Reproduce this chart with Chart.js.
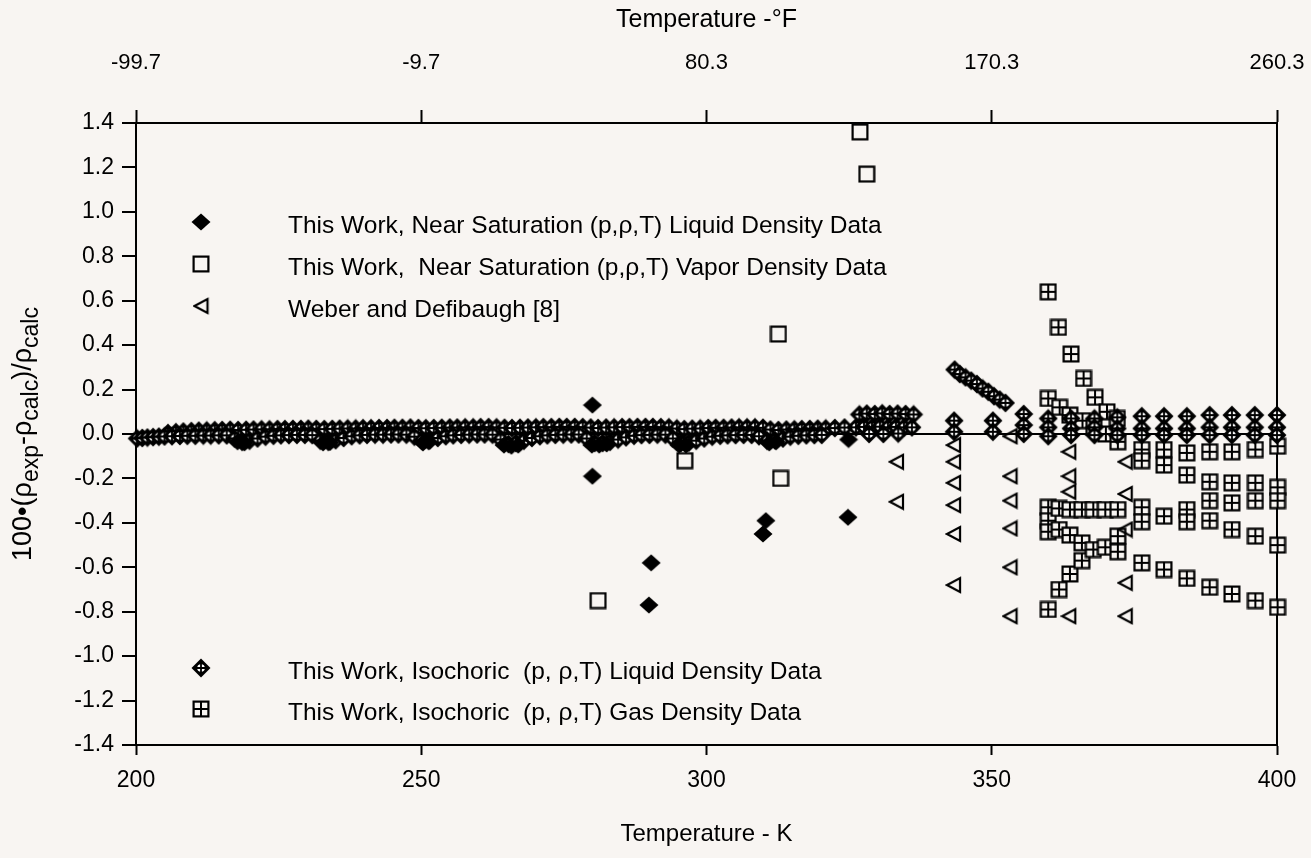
<!DOCTYPE html>
<html><head><meta charset="utf-8">
<script src="https://cdn.jsdelivr.net/npm/chart.js@4.4.1/dist/chart.umd.min.js"></script>
<style>html,body{margin:0;padding:0;background:#f8f5f2;}canvas{display:block}</style>
</head><body>
<canvas id="c" width="1311" height="858"></canvas>
<script>
// ---------- axis ticks ----------
const xTicksK = [200, 250, 300, 350, 400];
const xTicksF = ['-99.7', '-9.7', '80.3', '170.3', '260.3'];
const yTickValues = [-1.4,-1.2,-1.0,-0.8,-0.6,-0.4,-0.2,0,0.2,0.4,0.6,0.8,1.0,1.2,1.4];

// ---------- series: [T (K), 100*(rho_exp - rho_calc)/rho_calc] ----------
const satLiquid = [
  [217.8,-0.035],[219.0,-0.04],[232.8,-0.04],[234.0,-0.038],[250.3,-0.04],[251.3,-0.035],
  [264.5,-0.05],[265.8,-0.055],[267.0,-0.05],[279.9,-0.05],[281.2,-0.05],[282.5,-0.045],
  [295.2,-0.05],[296.4,-0.05],[311.0,-0.04],[312.2,-0.035],[324.9,-0.025],
  [280.0,0.13],[280.0,-0.19],[290.3,-0.58],[289.9,-0.77],[310.4,-0.39],[309.9,-0.45],[324.8,-0.375]
];
const satVapor = [
  [281.0,-0.75],[296.2,-0.12],[313.0,-0.20],[312.6,0.45],[326.9,1.36],[328.1,1.17]
];
const weber = [
  [333.3,-0.125],[333.3,-0.305],
  [343.3,-0.05],[343.3,-0.125],[343.3,-0.22],[343.3,-0.32],[343.3,-0.45],[343.3,-0.68],
  [353.2,-0.01],[353.2,-0.19],[353.2,-0.30],[353.2,-0.425],[353.2,-0.60],[353.2,-0.82],
  [363.5,-0.08],[363.5,-0.19],[363.5,-0.26],[363.5,-0.82],
  [373.4,-0.125],[373.4,-0.27],[373.4,-0.43],[373.4,-0.67],[373.4,-0.82]
];
const isoLiqUpper = [
  [205.6,0.004],[207.0,0.008],[208.3,0.011],[209.7,0.013],[211.0,0.015],[212.4,0.016],[213.8,0.017],
  [215.1,0.018],[216.5,0.019],[217.9,0.018],[219.3,0.019],[220.6,0.02],[222.0,0.021],[223.4,0.021],
  [224.8,0.022],[226.1,0.022],[227.5,0.023],[228.9,0.023],[230.2,0.024],[231.6,0.023],[233.0,0.022],
  [234.4,0.023],[235.7,0.024],[237.1,0.025],[238.5,0.025],[239.8,0.026],[241.2,0.026],[242.6,0.027],
  [244.0,0.027],[245.3,0.028],[246.7,0.028],[248.1,0.029],[249.5,0.027],[250.8,0.026],[252.2,0.027],
  [253.6,0.028],[255.0,0.029],[256.3,0.029],[257.7,0.03],[259.1,0.03],[260.4,0.031],[261.8,0.031],
  [263.2,0.03],[264.6,0.028],[265.9,0.027],[267.3,0.028],[268.7,0.029],[270.1,0.03],[271.4,0.031],
  [272.8,0.031],[274.2,0.032],[275.5,0.032],[276.9,0.032],[278.3,0.031],[279.7,0.029],[281.0,0.027],
  [282.4,0.029],[283.8,0.03],[285.2,0.031],[286.5,0.031],[287.9,0.032],[289.3,0.032],[290.6,0.032],
  [292.0,0.031],[293.4,0.03],[294.8,0.025],[296.1,0.022],[297.5,0.024],[298.9,0.025],[300.3,0.027],
  [301.6,0.028],[303.0,0.028],[304.4,0.029],[305.7,0.03],[307.1,0.03],[308.5,0.03],[309.9,0.028],
  [311.2,0.02],[312.6,0.018],[314.0,0.02],[315.4,0.021],[316.7,0.022],[318.1,0.023],[319.5,0.024],
  [320.9,0.025],[322.5,0.027],[324.2,0.029]
];
const isoLiqLower = [
  [200.2,-0.02],[201.1,-0.018],[202.0,-0.016],[203.0,-0.014],[204.0,-0.012],[205.0,-0.011],[206.3,-0.01],
  [207.7,-0.009],[209.0,-0.008],[210.4,-0.008],[211.8,-0.007],[213.1,-0.007],[214.5,-0.006],[215.9,-0.006],
  [217.3,-0.02],[218.6,-0.035],[219.9,-0.03],[221.3,-0.02],[222.7,-0.012],[224.1,-0.008],[225.4,-0.006],
  [226.8,-0.005],[228.2,-0.004],[229.6,-0.004],[230.9,-0.005],[232.3,-0.03],[233.7,-0.035],[235.0,-0.028],
  [236.4,-0.018],[237.8,-0.01],[239.2,-0.006],[240.5,-0.004],[241.9,-0.003],[243.3,-0.003],[244.7,-0.002],
  [246.0,-0.002],[247.4,-0.003],[248.8,-0.012],[250.1,-0.03],[251.5,-0.028],[252.9,-0.018],[254.3,-0.01],
  [255.6,-0.006],[257.0,-0.004],[258.4,-0.003],[259.8,-0.002],[261.1,-0.002],[262.5,-0.003],[263.9,-0.025],
  [265.3,-0.045],[266.6,-0.04],[268.0,-0.03],[269.4,-0.018],[270.8,-0.01],[272.1,-0.006],[273.5,-0.004],
  [274.9,-0.003],[276.3,-0.002],[277.6,-0.002],[279.0,-0.02],[280.4,-0.04],[281.8,-0.04],[283.1,-0.035],
  [284.5,-0.025],[285.9,-0.015],[287.3,-0.008],[288.6,-0.005],[290.0,-0.004],[291.4,-0.003],[292.8,-0.003],
  [294.1,-0.02],[295.5,-0.04],[296.9,-0.038],[298.2,-0.03],[299.6,-0.02],[301.0,-0.012],[302.4,-0.008],
  [303.7,-0.006],[305.1,-0.005],[306.5,-0.004],[307.9,-0.004],[309.2,-0.01],[310.6,-0.03],[312.0,-0.028],
  [313.4,-0.02],[314.7,-0.012],[316.1,-0.008],[317.5,-0.006],[318.9,-0.005],[320.2,-0.004]
];
const isoLiqHigh = [
  [326.8,0.088],[328.1,0.092],[329.5,0.09],[330.8,0.093],[332.1,0.09],[333.5,0.092],[334.9,0.09],[336.3,0.088],
  [326.2,0.03],[327.6,0.032],[329.0,0.03],[330.4,0.033],[331.8,0.03],[333.2,0.032],[334.6,0.03],[336.0,0.03],
  [328.5,0.0],[331.0,0.0],[333.6,0.002],
  [343.5,0.29],[344.4,0.27],[345.4,0.255],[346.4,0.24],[347.4,0.225],[348.4,0.205],[349.4,0.19],[350.4,0.17],[351.4,0.155],[352.4,0.14],
  [343.4,0.06],[343.4,0.01],[350.2,0.06],[350.2,0.01],
  [355.6,0.09],[355.6,0.04],[355.6,0.0],[359.9,0.07],[359.9,0.03],[359.9,-0.01],
  [363.9,0.07],[363.9,0.025],[363.9,-0.005],[368.0,0.07],[368.0,0.03],[368.0,-0.005],
  [372.0,0.075],[372.0,0.025],[372.0,-0.005],[376.3,0.08],[376.3,0.025],[376.3,-0.005],
  [380.2,0.08],[380.2,0.025],[380.2,-0.005],[384.2,0.08],[384.2,0.025],[384.2,-0.005],
  [388.2,0.085],[388.2,0.03],[388.2,-0.005],[392.1,0.085],[392.1,0.03],[392.1,-0.005],
  [396.1,0.085],[396.1,0.03],[396.1,-0.005],[400.0,0.085],[400.0,0.03],[400.0,-0.005]
];
const isoGas = [
  [359.9,0.64],[361.7,0.48],[363.9,0.36],[366.1,0.25],[368.1,0.165],[370.2,0.10],[372.0,0.07],
  [359.9,0.16],[361.9,0.12],[363.7,0.085],[365.9,0.06],[367.9,0.03],[370.0,0.0],[372.1,-0.035],
  [376.3,-0.07],[376.3,-0.12],[376.3,-0.33],[376.3,-0.395],[376.3,-0.58],
  [380.2,-0.07],[380.2,-0.14],[380.2,-0.37],[380.2,-0.61],
  [384.2,-0.085],[384.2,-0.185],[384.2,-0.34],[384.2,-0.395],[384.2,-0.65],
  [388.2,-0.08],[388.2,-0.215],[388.2,-0.30],[388.2,-0.39],[388.2,-0.69],
  [392.1,-0.08],[392.1,-0.22],[392.1,-0.31],[392.1,-0.43],[392.1,-0.72],
  [396.2,-0.07],[396.2,-0.22],[396.2,-0.30],[396.2,-0.46],[396.2,-0.75],
  [400.1,-0.055],[400.1,-0.24],[400.1,-0.30],[400.1,-0.50],[400.1,-0.78],
  [359.9,-0.33],[359.9,-0.39],[359.9,-0.44],[359.9,-0.79],
  [361.8,-0.335],[361.8,-0.43],[361.8,-0.70],
  [363.7,-0.34],[363.7,-0.455],[363.7,-0.63],
  [365.8,-0.34],[365.8,-0.49],[365.8,-0.57],
  [367.8,-0.34],[367.8,-0.52],
  [369.9,-0.34],[369.9,-0.51],
  [372.1,-0.34],[372.1,-0.46],[372.1,-0.53]
];
const legendLabels = [
  'This Work, Near Saturation (p,\u03c1,T) Liquid Density Data',
  'This Work,  Near Saturation (p,\u03c1,T) Vapor Density Data',
  'Weber and Defibaugh [8]',
  'This Work, Isochoric  (p, \u03c1,T) Liquid Density Data',
  'This Work, Isochoric  (p, \u03c1,T) Gas Density Data'
];

// ---------- styles ----------
const BG = '#f8f5f2';
const FONT = '"Liberation Sans", Arial, Helvetica, sans-serif';

function mk(w, h, draw) {
  const c = document.createElement('canvas'); c.width = w; c.height = h;
  draw(c.getContext('2d'), w, h); return c;
}
const symFilledDiamond = mk(20, 18, (g) => {
  g.fillStyle = '#000'; g.beginPath();
  g.moveTo(10, 0.5); g.lineTo(19.5, 9); g.lineTo(10, 17.5); g.lineTo(0.5, 9); g.closePath(); g.fill();
});
const symOpenSquare = mk(18, 18, (g) => {
  g.fillStyle = BG; g.fillRect(1, 1, 16, 16);
  g.strokeStyle = '#000'; g.lineWidth = 2.2; g.strokeRect(1.6, 1.6, 14.8, 14.8);
});
const symTriangle = mk(17, 18, (g) => {
  g.strokeStyle = '#000'; g.lineWidth = 2.2; g.lineJoin = 'miter'; g.beginPath();
  g.moveTo(2, 9); g.lineTo(15, 2); g.lineTo(15, 16); g.closePath(); g.stroke();
});
const symIsoDiamond = mk(20, 20, (g) => {
  g.fillStyle = '#000'; g.beginPath();
  g.moveTo(10, 0.5); g.lineTo(19.5, 10); g.lineTo(10, 19.5); g.lineTo(0.5, 10); g.closePath(); g.fill();
  g.fillStyle = '#fff'; g.beginPath(); g.arc(10, 10, 3.8, 0, Math.PI * 2); g.fill();
  g.strokeStyle = '#000'; g.lineWidth = 1.8; g.beginPath();
  g.moveTo(10, 5.5); g.lineTo(10, 14.5); g.moveTo(5.5, 10); g.lineTo(14.5, 10); g.stroke();
});
const symGasSquare = mk(18, 18, (g) => {
  g.fillStyle = BG; g.fillRect(1, 1, 16, 16);
  g.strokeStyle = '#000'; g.lineWidth = 2.2; g.strokeRect(1.6, 1.6, 14.8, 14.8);
  g.lineWidth = 2; g.beginPath(); g.moveTo(9, 2); g.lineTo(9, 16); g.moveTo(2, 9); g.lineTo(16, 9); g.stroke();
});
const legendSymbols = [symFilledDiamond, symOpenSquare, symTriangle, symIsoDiamond, symGasSquare];
const legendY = [222, 264, 306, 668, 709];

const toXY = arr => arr.map(p => ({x: p[0], y: p[1]}));
function ds(label, arr, style) {
  return {label, data: toXY(arr), pointStyle: style, pointRadius: 9, showLine: false, clip: false,
          xAxisID: 'x', yAxisID: 'y'};
}
function fixH(h) { return s => { s.height = h; s.paddingLeft = 0; s.paddingRight = 0; }; }
function fixW(w) { return s => { s.width = w; s.paddingTop = 0; s.paddingBottom = 0; }; }

const bgPlugin = {
  id: 'bg',
  beforeDraw(chart) { const g = chart.ctx; g.save(); g.fillStyle = BG; g.fillRect(0, 0, chart.width, chart.height); g.restore(); }
};
const annotPlugin = {
  id: 'annot',
  afterDraw(chart) {
    const g = chart.ctx; g.save();
    // legend
    g.font = '24.5px ' + FONT; g.fillStyle = '#000'; g.textBaseline = 'middle'; g.textAlign = 'left';
    legendLabels.forEach((t, i) => {
      const s = legendSymbols[i];
      g.drawImage(s, 201 - s.width / 2, legendY[i] - s.height / 2);
      g.fillText(t, 288, legendY[i] + 4);
    });
    // y axis title with subscripts
    const segs = [['100\u2022(\u03c1', 0], ['exp', 1], ['-\u03c1', 0], ['calc', 1], [')/\u03c1', 0], ['calc', 1]];
    const fMain = '27px ' + FONT, fSub = '23px ' + FONT;
    let total = 0;
    segs.forEach(s => { g.font = s[1] ? fSub : fMain; total += g.measureText(s[0]).width; });
    const ca = chart.chartArea;
    g.translate(21, (ca.top + ca.bottom) / 2); g.rotate(-Math.PI / 2);
    g.textBaseline = 'alphabetic';
    let x = -total / 2;
    segs.forEach(s => {
      g.font = s[1] ? fSub : fMain;
      g.fillText(s[0], x, s[1] ? 17 : 10);
      x += g.measureText(s[0]).width;
    });
    g.restore();
  }
};

new Chart(document.getElementById('c'), {
  type: 'scatter',
  data: {
    datasets: [
      ds(legendLabels[0], satLiquid, symFilledDiamond),
      ds(legendLabels[1], satVapor, symOpenSquare),
      ds(legendLabels[2], weber, symTriangle),
      ds(legendLabels[3], isoLiqUpper.concat(isoLiqLower, isoLiqHigh), symIsoDiamond),
      ds(legendLabels[4], isoGas, symGasSquare)
    ]
  },
  options: {
    responsive: false, animation: false, devicePixelRatio: 1,
    layout: {padding: 0},
    plugins: {legend: {display: false}, tooltip: {enabled: false}},
    scales: {
      x: {
        type: 'linear', position: 'bottom', min: 200, max: 400,
        afterBuildTicks: s => { s.ticks = xTicksK.map(v => ({value: v})); },
        afterFit: fixH(113),
        ticks: {font: {family: FONT, size: 23}, color: '#000', padding: 12, maxRotation: 0, autoSkip: false,
                callback: v => String(v)},
        grid: {drawOnChartArea: false, tickLength: 10, tickColor: '#000', tickWidth: 2},
        border: {color: '#000', width: 2},
        title: {display: true, text: 'Temperature - K', color: '#000', font: {family: FONT, size: 24}, padding: {top: 0, bottom: 9}}
      },
      x2: {
        type: 'linear', position: 'top', min: 200, max: 400,
        afterBuildTicks: s => { s.ticks = xTicksK.map(v => ({value: v})); },
        afterFit: fixH(123),
        ticks: {font: {family: FONT, size: 22}, color: '#000', padding: 34, maxRotation: 0, autoSkip: false,
                callback: (v) => xTicksF[xTicksK.indexOf(v)]},
        grid: {drawOnChartArea: false, tickLength: 13, tickColor: '#000', tickWidth: 2},
        border: {color: '#000', width: 2},
        title: {display: true, text: 'Temperature -\u00b0F', color: '#000', font: {family: FONT, size: 25}, padding: {top: 5, bottom: 0}}
      },
      y: {
        type: 'linear', position: 'left', min: -1.4, max: 1.4,
        afterBuildTicks: s => { s.ticks = yTickValues.map(v => ({value: v})); },
        afterFit: fixW(136),
        ticks: {font: {family: FONT, size: 23}, color: '#000', padding: 8,
                callback: v => (Math.abs(v) < 1e-9 ? 0 : v).toFixed(1)},
        grid: {drawOnChartArea: true, tickLength: 14, tickColor: '#000', tickWidth: 2,
               color: c => (c.tick && Math.abs(c.tick.value) < 1e-9) ? '#000' : 'rgba(0,0,0,0)', lineWidth: 2},
        border: {color: '#000', width: 2}
      },
      y2: {
        type: 'linear', position: 'right', min: -1.4, max: 1.4,
        afterFit: fixW(34),
        ticks: {display: false},
        grid: {display: false},
        border: {color: '#000', width: 2}
      }
    }
  },
  plugins: [bgPlugin, annotPlugin]
});
</script>
</body></html>
